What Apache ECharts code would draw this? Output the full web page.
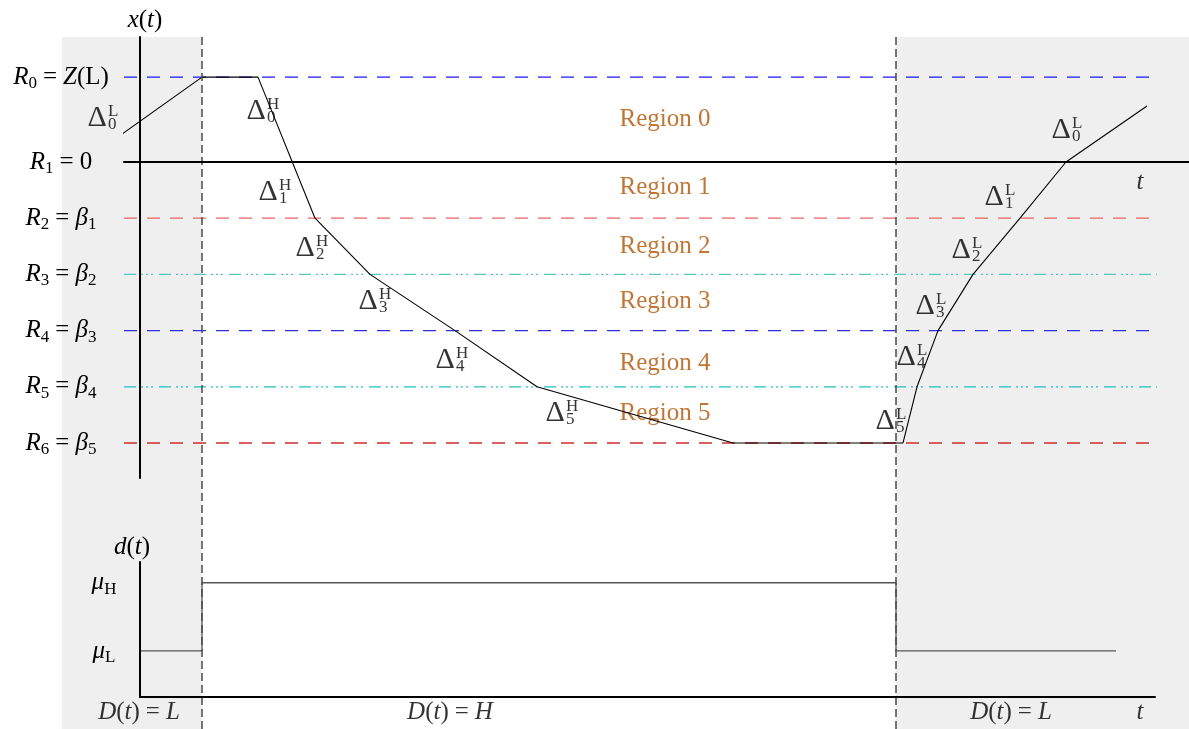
<!DOCTYPE html>
<html>
<head>
<meta charset="utf-8">
<script src="https://cdn.jsdelivr.net/npm/echarts@6/dist/echarts.min.js"></script>
<style>
html, body { margin: 0; padding: 0; background: #fff; }
#main { width: 1189px; height: 729px; }
</style>
</head>
<body>
<div id="main"></div>
<script>
// ---- data ----
// horizontal thresholds of x(t): R0, R2..R6 (R1 = 0 is the t axis itself)
var levelValues = [1.51, -1, -2, -3, -4, -5];
// tick values and their labels on the x(t) axis
var levelTicks = [1.51, 0, -1, -2, -3, -4, -5];
var levelLabels = [
  '{i|R}{sb|0}{eq|=}{i|Z}{r|(L)}',
  '{i|R}{sb|1}{eq|=}{r|0}',
  '{i|R}{sb|2}{eq|=}{i|β}{sb|1}',
  '{i|R}{sb|3}{eq|=}{i|β}{sb|2}',
  '{i|R}{sb|4}{eq|=}{i|β}{sb|3}',
  '{i|R}{sb|5}{eq|=}{i|β}{sb|4}',
  '{i|R}{sb|6}{eq|=}{i|β}{sb|5}'
];
// trajectory x(t)
var xPath = [[-22, 0.445], [62, 1.51], [118, 1.51], [175, -1], [230, -2], [315, -3],
  [397, -4], [593, -5], [763, -5], [777, -4], [798, -3], [833, -2], [880, -1],
  [926, 0], [1007, 0.996]];
// d(t)
var dTicks = [1, 2.48];
var dLabels = ['{i|μ}{sb|L}', '{i|μ}{sb|H}'];
var dPath = [[0, 1], [62, 1], [62, 2.48], [756, 2.48], [756, 1], [976, 1]];
// switching instants and shaded (D = L) intervals
var switchTimes = [62, 756];
var lowSpans = [[-78, 62], [756, 1049]];

// annotations: [t, value, text]
var regionNames = ['Region 0', 'Region 1', 'Region 2', 'Region 3', 'Region 4', 'Region 5'];
var regionAt = [0.75, -0.445, -1.51, -2.49, -3.58, -4.47];
var deltaNotes = [
  [-38, 0.78, '0', 'L'], [121, 0.91, '0', 'H'], [133, -0.53, '1', 'H'],
  [170, -1.53, '2', 'H'], [233, -2.47, '3', 'H'], [310, -3.52, '4', 'H'],
  [420, -4.47, '5', 'H'], [750, -4.61, '5', 'L'], [771, -3.47, '4', 'L'],
  [790, -2.56, '3', 'L'], [826, -1.57, '2', 'L'], [859, -0.62, '1', 'L'],
  [926, 0.57, '0', 'L']
];
var phaseNotes = [[-1, -0.326, 'L'], [310, -0.326, 'H'], [871, -0.326, 'L']];

// ---- styles ----
var F = 'Liberation Serif';
var levelColors = ['#1a1aff', '#e86464', '#55c6bc', '#2f2fdc', '#1fc2c2', '#cc2e2e'];
var dashA = [13, 10];
var dashB = [12, 5, 2, 3, 2, 3, 2, 6];
var levelDash = [dashA, dashA, dashB, dashA, dashB, dashA];

var rich = {
  i: { fontFamily: F, fontStyle: 'italic', fontSize: 25, lineHeight: 30, color: '#000', align: 'left' },
  r: { fontFamily: F, fontSize: 25, lineHeight: 30, color: '#000', align: 'left' },
  eq: { fontFamily: F, fontSize: 25, lineHeight: 30, color: '#000', padding: [0, 6, 0, 6], align: 'left' },
  d: { fontFamily: F, fontSize: 30, lineHeight: 30, color: '#000', padding: [0, 1, 0, 0], align: 'left' },
  sb: { fontFamily: F, fontSize: 17, lineHeight: 18, verticalAlign: 'bottom', color: '#000', align: 'left' },
  sp: { fontFamily: F, fontSize: 17, lineHeight: 14, verticalAlign: 'top', color: '#000', width: 0, align: 'left' }
};

var chart = echarts.init(document.getElementById('main'));

var series = [];

// background: shaded low-demand spans and switching lines
series.push({
  type: 'line', xAxisIndex: 0, yAxisIndex: 0, data: [], z: 1, silent: true,
  markArea: {
    silent: true,
    itemStyle: { color: '#efefef' },
    data: lowSpans.map(function (s) { return [{ xAxis: s[0] }, { xAxis: s[1] }]; })
  },
  markLine: {
    silent: true, symbol: 'none', label: { show: false },
    lineStyle: { color: '#4a4a4a', width: 1.5, type: [8, 4] },
    data: switchTimes.map(function (t) { return { xAxis: t }; })
  }
});

levelValues.forEach(function (v, k) {
  series.push({
    type: 'line', xAxisIndex: 1, yAxisIndex: 1, symbol: 'none', silent: true,
    data: [[-16, v], [1017, v]],
    lineStyle: { color: levelColors[k], width: 1.3, type: levelDash[k] }
  });
});

series.push({
  type: 'line', xAxisIndex: 1, yAxisIndex: 1, symbol: 'none', clip: false, silent: true,
  data: xPath, lineStyle: { color: '#000', width: 1.1 }, z: 4
});

series.push({
  type: 'scatter', xAxisIndex: 1, yAxisIndex: 1, symbolSize: 1, silent: true,
  itemStyle: { color: 'rgba(0,0,0,0)' },
  data: regionNames.map(function (n, k) { return { value: [525, regionAt[k]], name: n }; }),
  label: {
    show: true, position: 'inside', formatter: '{b}',
    fontFamily: F, fontSize: 25, color: '#b35400'
  }
});

series.push({
  type: 'scatter', xAxisIndex: 1, yAxisIndex: 1, symbolSize: 1, silent: true, clip: false,
  itemStyle: { color: 'rgba(0,0,0,0)' },
  data: deltaNotes.map(function (d) {
    return { value: [d[0], d[1]], name: '{d|Δ}{sp|' + d[3] + '}{sb|' + d[2] + '}' };
  }).concat([{ value: [1000, -0.36], name: '{i|t}' }]),
  label: { show: true, position: 'inside', formatter: '{b}', rich: rich }
});

series.push({
  type: 'line', xAxisIndex: 2, yAxisIndex: 2, symbol: 'none', silent: true,
  data: dPath, lineStyle: { color: '#555', width: 1.3 }, z: 4
});

series.push({
  type: 'scatter', xAxisIndex: 2, yAxisIndex: 2, symbolSize: 1, silent: true, clip: false,
  itemStyle: { color: 'rgba(0,0,0,0)' },
  data: phaseNotes.map(function (p) {
    return { value: [p[0], p[1]], name: '{i|D}{r|(}{i|t}{r|)}{eq|=}{i|' + p[2] + '}' };
  }).concat([{ value: [1000, -0.326], name: '{i|t}' }]),
  label: { show: true, position: 'inside', formatter: '{b}', rich: rich }
});

chart.setOption({
  animation: false,
  backgroundColor: '#fff',
  grid: [
    { left: 0, right: 0, top: 37, bottom: 0 },
    { left: 124, right: 0, top: 37, height: 441 },
    { left: 140, right: 34, top: 562, bottom: 32 }
  ],
  xAxis: [
    { gridIndex: 0, type: 'value', min: -140, max: 1049, show: false },
    {
      gridIndex: 1, type: 'value', min: -16, max: 1049, z: 6,
      axisLine: { onZero: true, lineStyle: { color: '#000', width: 2 } },
      axisTick: { show: false }, axisLabel: { show: false }, splitLine: { show: false }
    },
    {
      gridIndex: 2, type: 'value', min: 0, max: 1015, z: 6,
      axisLine: { lineStyle: { color: '#000', width: 2 } },
      axisTick: { show: false }, axisLabel: { show: false }, splitLine: { show: false }
    }
  ],
  yAxis: [
    { gridIndex: 0, type: 'value', min: 0, max: 1, show: false },
    {
      gridIndex: 1, type: 'value', min: -5.623, max: 2.224, z: 6,
      name: '{i|x}{r|(}{i|t}{r|)}', nameLocation: 'end', nameGap: 2,
      nameTextStyle: { rich: rich, padding: [0, 0, 0, 10] },
      axisLine: { onZero: true, lineStyle: { color: '#000', width: 2 } },
      axisTick: { show: false }, splitLine: { show: false },
      axisLabel: {
        customValues: levelTicks, margin: 63, align: 'center', rich: rich,
        formatter: function (v) { return levelLabels[levelTicks.indexOf(v)] || ''; }
      }
    },
    {
      gridIndex: 2, type: 'value', min: 0, max: 2.93, z: 6,
      name: '{i|d}{r|(}{i|t}{r|)}', nameLocation: 'end', nameGap: 0,
      nameTextStyle: { rich: rich, padding: [0, 16, 0, 0] },
      axisLine: { lineStyle: { color: '#000', width: 2 } },
      axisTick: { show: false }, splitLine: { show: false },
      axisLabel: {
        customValues: dTicks, margin: 36, align: 'center', rich: rich,
        formatter: function (v) { return dLabels[dTicks.indexOf(v)] || ''; }
      }
    }
  ],
  series: series
});
</script>
</body>
</html>
